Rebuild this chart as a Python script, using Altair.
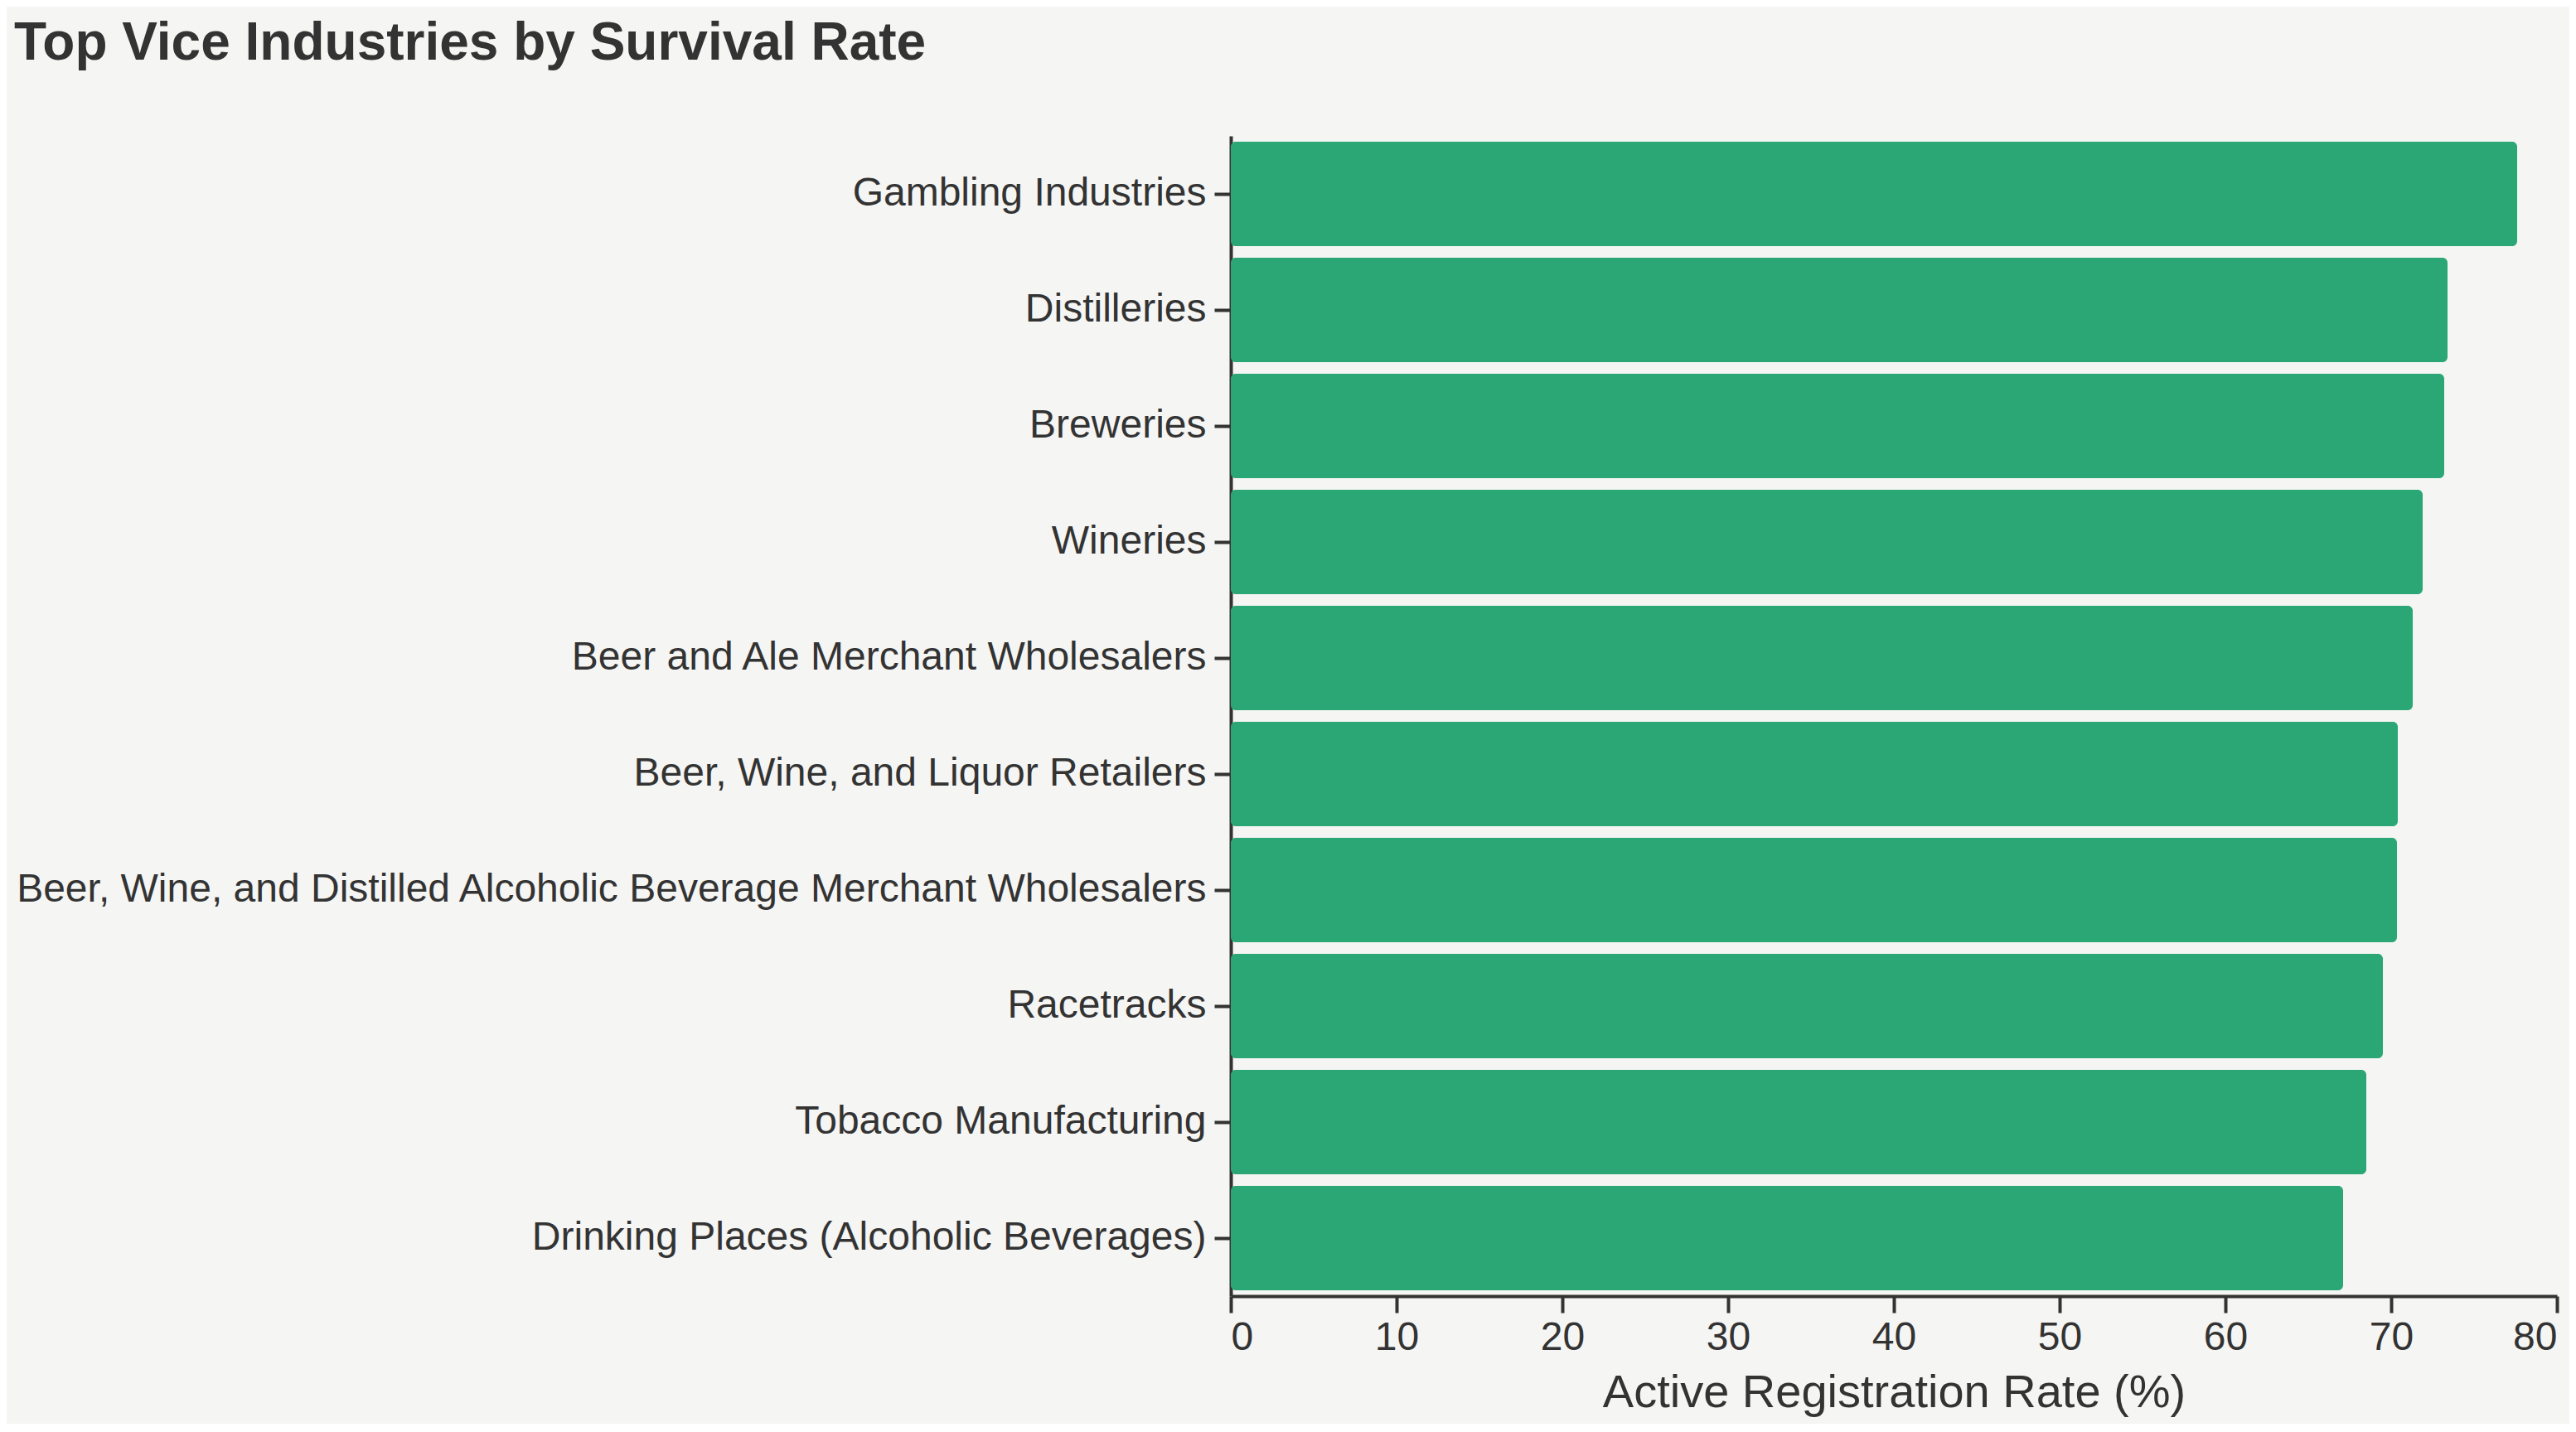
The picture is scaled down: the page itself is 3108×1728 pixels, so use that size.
import altair as alt
import pandas as pd

industries = [
    "Gambling Industries",
    "Distilleries",
    "Breweries",
    "Wineries",
    "Beer and Ale Merchant Wholesalers",
    "Beer, Wine, and Liquor Retailers",
    "Beer, Wine, and Distilled Alcoholic Beverage Merchant Wholesalers",
    "Racetracks",
    "Tobacco Manufacturing",
    "Drinking Places (Alcoholic Beverages)",
]
rates = [77.6, 73.4, 73.2, 71.9, 71.3, 70.4, 70.35, 69.5, 68.5, 67.1]
x_ticks = [0, 10, 20, 30, 40, 50, 60, 70, 80]

df = pd.DataFrame({"industry": industries, "rate": rates})

FONT = "Liberation Sans"
TEXT = "#333333"

chart = (
    alt.Chart(df)
    .mark_bar(color="#2ba776", cornerRadius=6)
    .encode(
        x=alt.X(
            "rate:Q",
            title="Active Registration Rate (%)",
            scale=alt.Scale(domain=[0, 80]),
            axis=alt.Axis(
                values=x_ticks,
                grid=False,
                tickSize=20,
                tickWidth=4,
                domainWidth=4,
                labelPadding=6,
                titlePadding=15,
            ),
        ),
        y=alt.Y(
            "industry:N",
            title=None,
            sort=industries,
            scale=alt.Scale(paddingInner=0.1, paddingOuter=0.05),
            axis=alt.Axis(
                grid=False,
                tickSize=20,
                tickWidth=4,
                domainWidth=4,
                labelPadding=10,
                labelLimit=2000,
            ),
        ),
    )
    .properties(
        width=1600,
        height=1400,
        padding={"left": 8, "top": 13, "right": 13, "bottom": 10},
        background="#f5f5f3",
        title=alt.TitleParams(
            "Top Vice Industries by Survival Rate",
            anchor="start",
            fontSize=64,
            font=FONT,
            fontWeight="bold",
            color=TEXT,
            offset=79,
        ),
    )
    .configure_view(stroke=None)
    .configure_axis(
        labelFont=FONT,
        titleFont=FONT,
        labelFontSize=48,
        titleFontSize=56,
        titleFontWeight="normal",
        labelColor=TEXT,
        titleColor=TEXT,
        domainColor=TEXT,
        tickColor=TEXT,
    )
)

chart.save("out.html", embed_options={"renderer": "svg", "actions": False})
